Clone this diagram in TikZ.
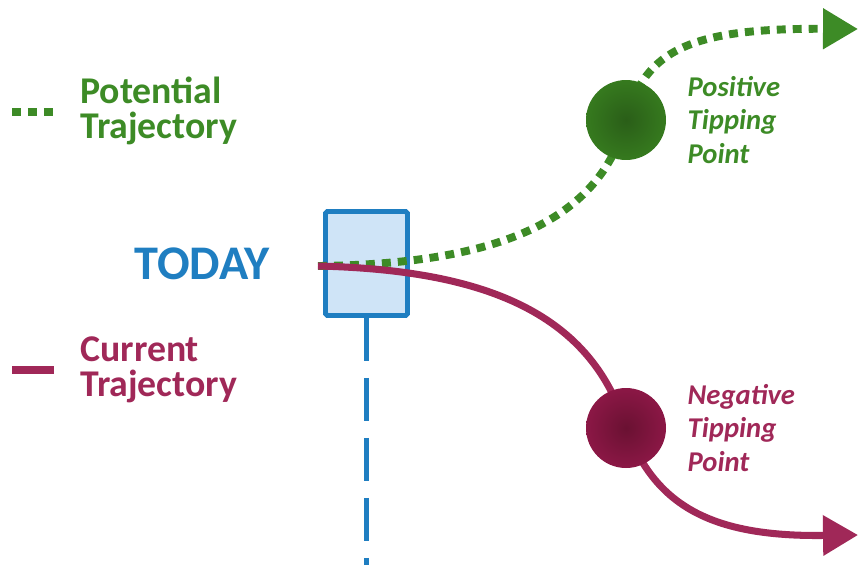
\documentclass[tikz,border=0pt]{standalone}
\usepackage{fontspec}
\setmainfont{Carlito}
\usetikzlibrary{arrows.meta,positioning}
\definecolor{potgreen}{HTML}{3D8B26}
\definecolor{posedge}{HTML}{3B8621}
\definecolor{potdark}{HTML}{2A5E18}
\definecolor{curred}{HTML}{A02858}
\definecolor{negred}{HTML}{9A1A4E}
\definecolor{negdark}{HTML}{6A1132}
\definecolor{todayblue}{HTML}{1F7EC1}
\definecolor{todayfill}{HTML}{CFE4F7}
\pgfdeclareradialshading{posglow}{\pgfpoint{0bp}{0bp}}{color(0bp)=(potdark); color(36bp)=(posedge); color(50bp)=(posedge)}
\pgfdeclareradialshading{negglow}{\pgfpoint{0bp}{0bp}}{color(0bp)=(negdark); color(36bp)=(negred); color(50bp)=(negred)}
\pgfdeclarelayer{front}
\pgfsetlayers{main,front}
\tikzset{%
	legendtext/.style = {anchor=west, inner sep=0pt, align=left, font=\fontsize{21.5}{19.8}\selectfont\bfseries},
	tiplabel/.style   = {inner sep=0pt, align=left, font=\fontsize{16.3}{19}\selectfont\bfseries\itshape},
	tipping/.style    = {circle, inner sep=0pt, minimum size=1.6cm},
	todaybox/.style   = {draw=todayblue, fill=todayfill, line width=2.8pt, rounded corners=1pt, minimum width=1.64cm, minimum height=2.08cm, inner sep=0pt},
	timeline/.style   = {draw=todayblue, line width=2.8pt, dash pattern=on 0.86cm off 0.34cm},
	potential/.style  = {draw=potgreen, line width=4.5pt, dash pattern=on 5.1pt off 4pt},
	current/.style    = {draw=curred, line width=4pt},
	bigtip/.style     = {-{Triangle[length=0.7cm, width=0.78cm]}},
}
\begin{document}
\begin{tikzpicture}[x=0.02cm, y=-0.02cm]
	\useasboundingbox (0,0) rectangle (858,565);
	% legend
	\node[legendtext, text=potgreen] (potlegend) at (80,111) {Potential\\Trajectory};
	\draw[potential] (12,112) -- (53,112);
	\node[legendtext, text=curred] (curlegend) at (80,370) {Current\\Trajectory};
	\draw[current, line width=4.5pt] (12,370) -- (54,370);
	% today
	\node[todaybox] (box) at (366.5,263.5) {};
	\node[left=1.06cm of box, inner sep=0pt, text=todayblue, font=\fontsize{27.5}{27.5}\selectfont\bfseries] (today) {TODAY};
	\coordinate (now) at (318,266);
	\coordinate (future) at (368,565);
	\draw[timeline] (box.south) -- (box.south |- future);
	% tipping points
	\begin{pgfonlayer}{front}
		\node[tipping, shading=posglow] (pos) at (626,120) {};
		\node[tipping, shading=negglow] (neg) at (626,428) {};
	\end{pgfonlayer}
	\node[tiplabel, text=potgreen, right=0.42cm of pos] (poslabel) {Positive\\Tipping\\Point};
	\node[tiplabel, text=curred, right=0.42cm of neg] (neglabel) {Negative\\Tipping\\Point};
	% trajectories
	\coordinate (posend) at (858,29);
	\coordinate (negend) at (858,535);
	\draw[potential, bigtip] (now) .. controls (500,264) and (600,220) .. (pos.center) .. controls (645,50) and (690,28) .. (posend);
	\draw[current, bigtip] (now) .. controls (480,270) and (590,310) .. (neg.center) .. controls (655,505) and (710,537) .. (negend);
\end{tikzpicture}
\end{document}
